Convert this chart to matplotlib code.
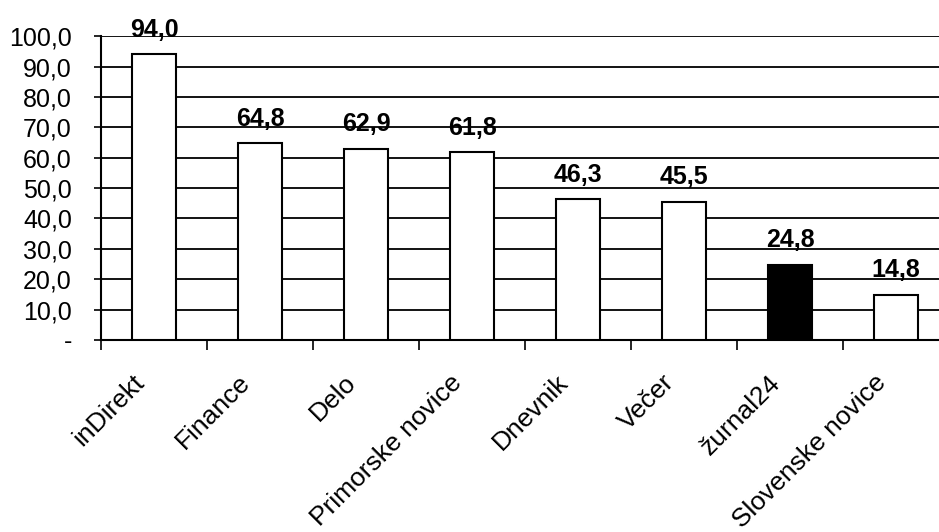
import numpy as np
import matplotlib
matplotlib.use("Agg")
import matplotlib.pyplot as plt
import matplotlib.transforms as mtransforms
from matplotlib.ticker import FixedLocator

plt.rcParams['font.family'] = ['Liberation Sans', 'DejaVu Sans']

categories = ['inDirekt', 'Finance', 'Delo', 'Primorske novice',
              'Dnevnik', 'Večer', 'žurnal24', 'Slovenske novice']
values = [94.0, 64.8, 62.9, 61.8, 46.3, 45.5, 24.8, 14.8]
highlight = 'žurnal24'
yticks = [0, 10, 20, 30, 40, 50, 60, 70, 80, 90, 100]
ytick_labels = ['-', '10,0', '20,0', '30,0', '40,0', '50,0',
                '60,0', '70,0', '80,0', '90,0', '100,0']

fig = plt.figure(figsize=(9.39, 5.32), dpi=100)
ax = fig.add_axes([0.1076, 0.361, 0.903, 0.571])

x = np.arange(len(categories))
colors = ['black' if c == highlight else 'white' for c in categories]
bars = ax.bar(x, values, width=0.41, color=colors, edgecolor='black',
              linewidth=1.5, zorder=3)

for b, v in zip(bars, values):
    ax.annotate(f'{v:.1f}'.replace('.', ','),
                (b.get_x() + b.get_width() / 2, v),
                xytext=(0, 9), textcoords='offset points',
                ha='center', va='bottom', fontsize=18, fontweight='bold',
                zorder=4)

ax.set_xlim(-0.5, len(categories) - 0.5)
ax.set_ylim(0, 100)
ax.set_yticks(yticks)
ax.set_yticklabels(ytick_labels, fontsize=18)
ax.yaxis.grid(True, color='black', linewidth=1.3, zorder=0)
ax.set_axisbelow(True)

ax.set_xticks(x)
ax.set_xticklabels(categories, rotation=45, ha='right',
                   rotation_mode='anchor', fontsize=19)
ax.tick_params(axis='x', which='major', length=0, pad=22)
shift = mtransforms.ScaledTranslation(-22 / 100, 0, fig.dpi_scale_trans)
for lbl in ax.get_xticklabels():
    lbl.set_transform(lbl.get_transform() + shift)
ax.xaxis.set_minor_locator(FixedLocator(np.arange(len(categories)) - 0.5))
ax.tick_params(axis='x', which='minor', length=7, width=1.2, direction='out')
ax.tick_params(axis='y', length=5, width=1.2, direction='out', pad=16)

for s in ['top', 'right']:
    ax.spines[s].set_visible(False)
ax.spines['left'].set_linewidth(1.5)
ax.spines['bottom'].set_linewidth(1.5)

fig.savefig('out.png', dpi=100)
